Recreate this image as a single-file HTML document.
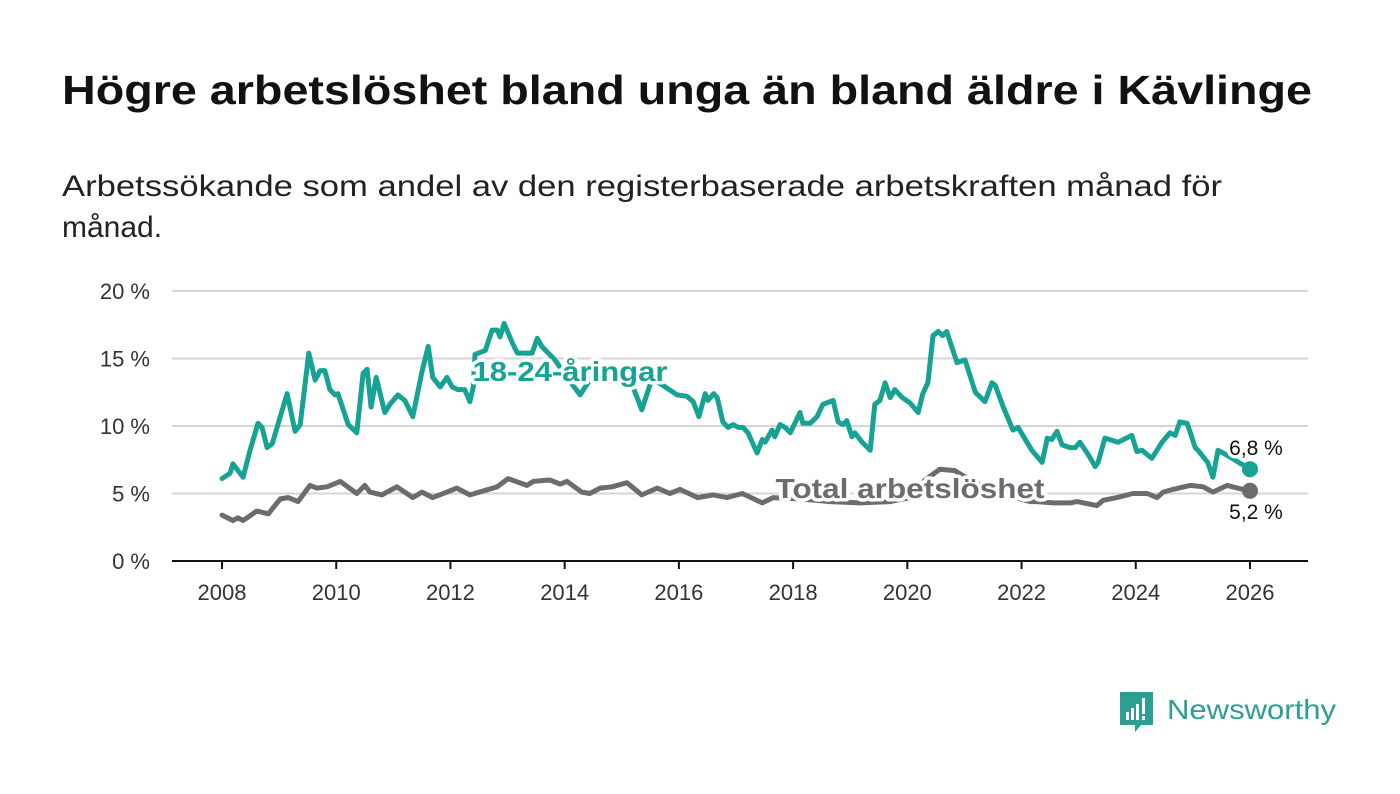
<!DOCTYPE html>
<html><head><meta charset="utf-8"><style>
html,body{margin:0;padding:0;background:#fff;}
svg{display:block;font-family:"Liberation Sans","DejaVu Sans",sans-serif;}
</style></head><body>
<svg id="c" width="1400" height="794" viewBox="0 0 1400 794">
<text x="62" y="104" font-size="41" font-weight="bold" fill="#111" textLength="1250" lengthAdjust="spacingAndGlyphs">Högre arbetslöshet bland unga än bland äldre i Kävlinge</text>
<text x="62" y="196" font-size="30" fill="#222" textLength="1160" lengthAdjust="spacingAndGlyphs">Arbetssökande som andel av den registerbaserade arbetskraften månad för</text>
<text x="62" y="237" font-size="30" fill="#222">månad.</text>
<g id="grid"></g>
<g id="series"></g>
<g id="labels"></g>
<g>
<path d="M1120 692 h33 v33 h-12 l-6 7 v-7 h-15 z" fill="#2e9e94"/>
<rect x="1126" y="712" width="3" height="8" fill="#fff"/><rect x="1131" y="708" width="3" height="12" fill="#fff"/><rect x="1136" y="704" width="3" height="16" fill="#fff"/><rect x="1142" y="698" width="3" height="16" fill="#fff"/><rect x="1142" y="716" width="3" height="4" fill="#fff"/>
<text x="1167" y="719" font-size="28" fill="#2e9e94" textLength="169" lengthAdjust="spacingAndGlyphs">Newsworthy</text>
</g>
</svg>
<script>
const yTicks=[0,5,10,15,20];
const xTicks=[2008,2010,2012,2014,2016,2018,2020,2022,2024,2026];
const youthDates=[2008.00,2008.14,2008.19,2008.37,2008.49,2008.63,2008.70,2008.79,2008.88,2009.14,2009.28,2009.37,2009.52,2009.63,2009.72,2009.80,2009.89,2009.98,2010.03,2010.21,2010.36,2010.47,2010.54,2010.61,2010.70,2010.85,2010.94,2011.08,2011.20,2011.34,2011.50,2011.61,2011.69,2011.82,2011.94,2012.03,2012.13,2012.25,2012.34,2012.40,2012.43,2012.61,2012.73,2012.82,2012.87,2012.94,2013.08,2013.17,2013.29,2013.43,2013.52,2013.60,2013.69,2013.83,2014.04,2014.27,2014.53,2014.88,2015.14,2015.35,2015.53,2015.76,2015.97,2016.14,2016.25,2016.35,2016.46,2016.51,2016.61,2016.67,2016.77,2016.86,2016.95,2017.04,2017.12,2017.21,2017.37,2017.46,2017.51,2017.63,2017.68,2017.77,2017.86,2017.95,2018.12,2018.17,2018.30,2018.42,2018.52,2018.70,2018.79,2018.87,2018.94,2019.03,2019.08,2019.21,2019.35,2019.43,2019.52,2019.61,2019.70,2019.78,2019.91,2020.05,2020.19,2020.27,2020.36,2020.45,2020.54,2020.62,2020.69,2020.87,2021.01,2021.19,2021.36,2021.48,2021.54,2021.68,2021.85,2021.94,2022.18,2022.36,2022.45,2022.53,2022.62,2022.71,2022.85,2022.94,2023.02,2023.15,2023.29,2023.34,2023.46,2023.69,2023.93,2024.02,2024.11,2024.28,2024.46,2024.60,2024.69,2024.77,2024.90,2025.04,2025.09,2025.26,2025.35,2025.44,2025.53,2026.00];
const youthValues=[6.1,6.5,7.2,6.2,8.2,10.2,9.9,8.4,8.7,12.4,9.6,10.1,15.4,13.4,14.1,14.1,12.7,12.3,12.4,10.1,9.5,13.9,14.2,11.4,13.6,11.0,11.6,12.3,11.9,10.7,14.0,15.9,13.6,12.9,13.6,12.9,12.7,12.7,11.8,12.9,15.3,15.6,17.1,17.1,16.6,17.6,16.2,15.4,15.4,15.4,16.5,15.9,15.5,14.9,13.6,12.3,14.0,14.0,13.5,11.2,13.5,12.9,12.3,12.2,11.8,10.7,12.4,11.9,12.4,12.1,10.3,9.9,10.1,9.9,9.9,9.5,8.0,9.0,8.8,9.7,9.2,10.1,9.9,9.5,11.0,10.2,10.2,10.7,11.6,11.9,10.3,10.1,10.4,9.2,9.5,8.8,8.2,11.6,11.9,13.2,12.1,12.7,12.1,11.7,11.0,12.4,13.2,16.7,17.0,16.7,17.0,14.7,14.9,12.5,11.8,13.2,13.0,11.4,9.7,9.9,8.2,7.3,9.1,9.0,9.6,8.6,8.4,8.4,8.8,8.0,7.0,7.3,9.1,8.8,9.3,8.1,8.2,7.6,8.8,9.5,9.3,10.3,10.2,8.4,8.2,7.3,6.2,8.2,8.0,6.8];
const totalDates=[2008.00,2008.19,2008.28,2008.37,2008.61,2008.81,2009.02,2009.16,2009.33,2009.54,2009.66,2009.84,2010.07,2010.36,2010.50,2010.59,2010.80,2011.06,2011.34,2011.50,2011.69,2011.94,2012.11,2012.34,2012.82,2013.01,2013.34,2013.45,2013.74,2013.92,2014.04,2014.30,2014.44,2014.62,2014.83,2015.09,2015.35,2015.62,2015.84,2016.02,2016.33,2016.60,2016.84,2017.11,2017.46,2017.65,2018.12,2018.65,2019.17,2019.70,2020.05,2020.31,2020.57,2020.83,2021.10,2021.45,2021.80,2022.15,2022.27,2022.55,2022.85,2022.97,2023.32,2023.43,2023.67,2023.95,2024.20,2024.37,2024.48,2024.65,2024.95,2025.18,2025.35,2025.60,2025.88,2026.00];
const totalValues=[3.4,3.0,3.2,3.0,3.7,3.5,4.6,4.7,4.4,5.6,5.4,5.5,5.9,5.0,5.6,5.1,4.9,5.5,4.7,5.1,4.7,5.1,5.4,4.9,5.5,6.1,5.6,5.9,6.0,5.7,5.9,5.1,5.0,5.4,5.5,5.8,4.9,5.4,5.0,5.3,4.7,4.9,4.7,5.0,4.3,4.7,4.6,4.4,4.3,4.4,4.7,6.0,6.8,6.7,6.0,5.3,4.8,4.4,4.4,4.3,4.3,4.4,4.1,4.5,4.7,5.0,5.0,4.7,5.1,5.3,5.6,5.5,5.1,5.6,5.3,5.2];
const NS='http://www.w3.org/2000/svg';
const X0=222,X1=1250,Y0=561,Y20=291;
function xs(t){return X0+(t-2008)*(X1-X0)/18;}
function ys(v){return Y0-(v)*(Y0-Y20)/20;}
function mk(tag,attrs,parent){const e=document.createElementNS(NS,tag);for(const k in attrs)e.setAttribute(k,attrs[k]);parent.appendChild(e);return e;}
const grid=document.getElementById('grid');
yTicks.forEach(v=>{
  if(v>0){const l=mk('line',{x1:172,x2:1308,y1:ys(v),y2:ys(v),stroke:'#d6d6d6','stroke-width':2},grid);
  
  }
  const t=mk('text',{x:150,y:ys(v)+8,'font-size':22,fill:'#333','text-anchor':'end'},grid);
  t.textContent=v+' %';
  
  
});
const ax=mk('line',{x1:172,x2:1308,y1:Y0,y2:Y0,stroke:'#111','stroke-width':2},grid);


xTicks.forEach(y=>{
  const tk=mk('line',{x1:xs(y),x2:xs(y),y1:Y0,y2:Y0+8,stroke:'#111','stroke-width':2},grid);
  
  
  const t=mk('text',{x:xs(y),y:600,'font-size':22,fill:'#333','text-anchor':'middle'},grid);
  t.textContent=y;
  
  
});
const ser=document.getElementById('series');
function line(d,v,col,name){
  const n=Math.min(d.length,v.length);
  const pts=[];
  for(let i=0;i<n;i++)pts.push(xs(d[i]).toFixed(1)+','+ys(v[i]).toFixed(1));
  const p=mk('polyline',{points:pts.join(' '),fill:'none',stroke:col,'stroke-width':5,'stroke-linejoin':'round','stroke-linecap':'round'},ser);
  
  
  const c=mk('circle',{cx:xs(d[n-1]),cy:ys(v[n-1]),r:8,fill:col},ser);
  
  
}
line(totalDates,totalValues,'#6c6b70','total');
line(youthDates,youthValues,'#16a394','youth');
const lab=document.getElementById('labels');
function txt(s,x,y,size,col,bold,anchor,name,len){
  const a={x:x,y:y,'font-size':size,fill:col,'font-weight':bold?'bold':'normal','text-anchor':anchor,stroke:'#fff','stroke-width':7,'paint-order':'stroke','stroke-linejoin':'round'};
  if(len){a.textLength=len;a.lengthAdjust='spacingAndGlyphs';}
  const t=mk('text',a,lab);
  t.textContent=s;
  
  
}
txt('18-24-åringar',570,381,28,'#16a394',true,'middle','youth-series-label',195);
txt('Total arbetslöshet',910,498,28,'#6c6b70',true,'middle','total-series-label',269);
const ny=youthValues[youthValues.length-1],nt=totalValues[totalValues.length-1];
txt(ny.toFixed(1).replace('.',',')+' %',1256,ys(ny)-14,21,'#111',false,'middle','youth-end-value');
txt(nt.toFixed(1).replace('.',',')+' %',1256,ys(nt)+28,21,'#111',false,'middle','total-end-value');
</script>
</body></html>
